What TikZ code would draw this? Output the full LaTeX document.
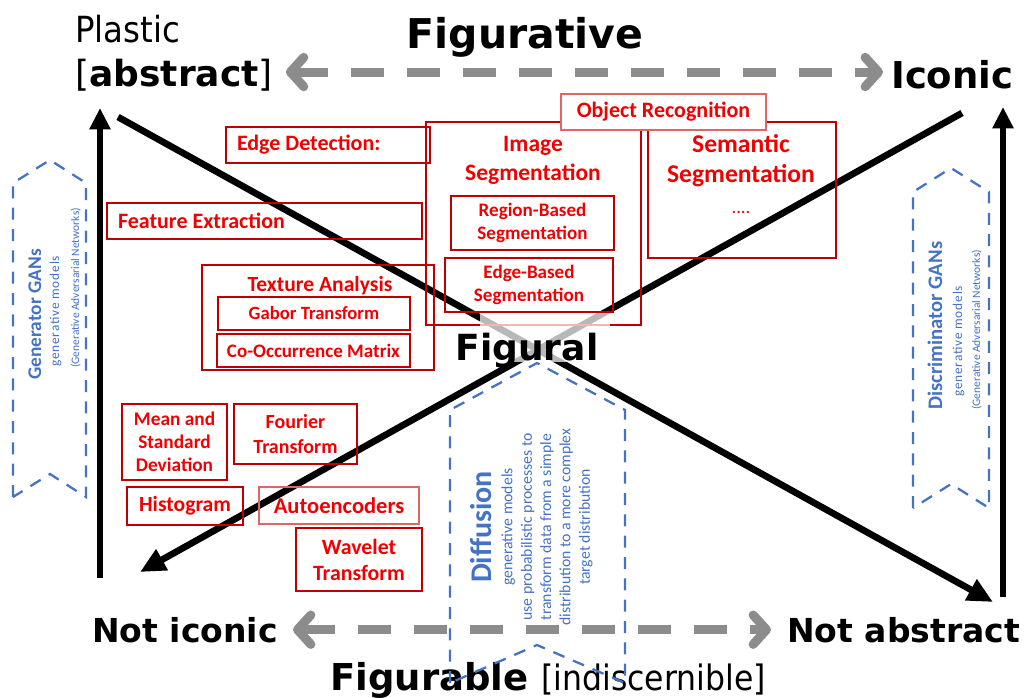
\documentclass[tikz,border=0pt]{standalone}
\usepackage{fontspec}
\setmainfont{DejaVu Sans}
\newfontfamily\condfont{DejaVu Sans Condensed}
\newfontfamily\calfont{Carlito}
\newfontfamily\calspaced[LetterSpace=6]{Carlito}
\usetikzlibrary{arrows.meta}
\definecolor{boxred}{HTML}{C00000}
\definecolor{lightred}{HTML}{E06666}
\definecolor{txtred}{HTML}{F00000}
\definecolor{gansblue}{HTML}{4472C4}
\definecolor{arrgrey}{HTML}{8C8C8C}
\newcommand{\fsz}[2]{\fontsize{#1pt}{#2pt}\selectfont}
\tikzset{
    axislbl/.style={font=\bfseries\fsz{#1}{#1}, inner sep=0pt},
    redbox/.style={draw=boxred, line width=1.2pt, text=txtred, align=center, inner sep=0pt},
    redtxt/.style={text=txtred, align=center, inner sep=0pt},
    redfs/.style 2 args={font=\calfont\bfseries\fsz{#1}{#2}},
    boxwh/.style 2 args={minimum width=#1*0.75pt, minimum height=#2*0.75pt},
    chevron/.style={draw=gansblue, line width=1.7pt, dash pattern=on 9pt off 7pt},
    bluetxt/.style={text=gansblue, rotate=90, inner sep=0pt},
    greyarr/.style={draw=arrgrey, line width=6.8pt, dash pattern=on 25pt off 17pt,
        {Straight Barb[round, length=10pt, width=22pt]}-{Straight Barb[round, length=10pt, width=22pt]}},
    vertarr/.style={line width=4pt, -{Triangle[length=16pt, width=15pt]}},
    diagarr/.style={line width=5pt, -{Triangle[length=19pt, width=17pt]}}
}

\begin{document}
\begin{tikzpicture}[x=0.75pt, y=-0.75pt]

\useasboundingbox (0,0) rectangle (1030,697);

\node[font=\condfont\fsz{27}{32}, inner sep=0pt, anchor=base west] (plastic) at (75,42) {Plastic};
\node[axislbl=27, anchor=base west] (abstract) at (75,86) {{\mdseries[}abstract{\mdseries]}};
\node[axislbl=30.75, anchor=base] (figurative) at (525,48) {Figurative};
\node[axislbl=27.75, anchor=base west] (iconic) at (891,88) {Iconic};
\node[axislbl=24.75, anchor=base west] (noticonic) at (92,642) {Not iconic};
\node[axislbl=24.75, anchor=base west] (notabstract) at (787,642) {Not abstract};
\node[axislbl=27.75, anchor=base west] (figurable) at (330,690) {Figurable {\condfont\mdseries\fsz{26.25}{30}[indiscernible]}};

\draw[greyarr, shorten <=9.75pt, shorten >=6pt] ([yshift=2pt]abstract.east) -- ([yshift=2pt]abstract.east -| iconic.west);
\draw[greyarr, shorten <=11.25pt, shorten >=12pt] (noticonic.east) -- (noticonic.east -| notabstract.west);

\draw[chevron] (13,497) -- (13,183) -- (50,160) -- (86,183) -- (86,497) -- (50,474) -- cycle;
\draw[chevron] (913,508) -- (913,192) -- (951,168) -- (989,192) -- (989,508) -- (951,484) -- cycle;
\draw[chevron] (450,683) -- (450,410) -- (537,363) -- (625,410) -- (625,683) -- (537,645) -- cycle;

\node[bluetxt, font=\calfont\bfseries\fsz{14.5}{17}, anchor=base west] (gentitle) at (41,380) {Generator GANs};
\node[bluetxt, font=\calspaced\fsz{10}{12}, anchor=base west] (gensub) at (59,367) {generative models};
\node[bluetxt, font=\calfont\fsz{8.6}{11}, anchor=base west] (gennote) at (79,368) {(Generative Adversarial Networks)};
\node[bluetxt, font=\calfont\bfseries\fsz{15.5}{18}, anchor=base west] (disctitle) at (942,410) {Discriminator GANs};
\node[bluetxt, font=\calspaced\fsz{10}{12}, anchor=base west] (discsub) at (962,397) {generative models};
\node[bluetxt, font=\calfont\fsz{8.6}{11}, anchor=base west] (discnote) at (980,410) {(Generative Adversarial Networks)};
\node[bluetxt, font=\calfont\bfseries\fsz{22.5}{27}, anchor=base] (difftitle) at (491,527) {Diffusion};
\node[bluetxt, font=\calfont\fsz{11.8}{14.5}, align=center] (diffnote) at (547,527)
    {generative models\\use probabilistic processes to\\transform data from a simple\\distribution to a more complex\\target distribution};

\coordinate (lbot) at (100,578);
\coordinate (ltop) at (100,108);
\coordinate (rbot) at (1003,597);
\coordinate (rtop) at (1003,107);
\coordinate (tlstart) at (118,117);
\coordinate (brend) at (993,602);
\coordinate (trstart) at (962,113);
\coordinate (blend) at (140,572);
\draw[vertarr] (lbot) -- (ltop);
\draw[vertarr] (rbot) -- (rtop);
\draw[diagarr] (tlstart) -- (brend);
\draw[diagarr] (trstart) -- (blend);

\node[redbox, boxwh={204}{36}, redfs={16.5}{20}, text width=136.5pt, align=flush left] (edgedet) at (328,145) {Edge Detection:};
\node[redbox, boxwh={215}{203}] (imgseg) at (533.5,223.5) {};
\node[redtxt, redfs={17.6}{21.75}] (imgsegtxt) at (533,160) {Image\\Segmentation};
\node[redbox, boxwh={163}{54}, redfs={14.3}{17.3}] (regbased) at (532.5,223) {Region-Based\\Segmentation};
\node[redbox, boxwh={168}{54}, redfs={14.3}{17.3}] (edgebased) at (529,285) {Edge-Based\\Segmentation};
\node[redbox, boxwh={188}{136}] (semseg) at (742,190) {};
\node[redtxt, redfs={19.2}{23}] (semsegtxt) at (741,174) {Semantic\\Segmentation\\{\mdseries\fsz{14}{23}....}};
\node[redbox, boxwh={205}{36}, redfs={16.5}{20}, fill=white, draw=lightred, line width=0.8pt] (objrec) at (663.5,112) {Object Recognition};
\node[redbox, boxwh={315}{36}, redfs={16.5}{20}, text width=219.75pt, align=flush left] (featext) at (264.5,221) {Feature Extraction};
\node[redbox, boxwh={232}{105}] (texture) at (318,317.5) {};
\node[redtxt, redfs={16.2}{19}] (texturetxt) at (320,286) {Texture Analysis};
\node[redbox, boxwh={192}{33}, redfs={14}{17}] (gabor) at (314,313.5) {Gabor Transform};
\node[redbox, boxwh={193}{33}, redfs={14.3}{17}] (cooc) at (313.5,350.5) {Co-Occurrence Matrix};
\node[redbox, boxwh={105}{76}, redfs={14.5}{17.25}] (meanstd) at (174.5,442) {Mean and\\Standard\\Deviation};
\node[redbox, boxwh={123}{60}, redfs={15}{18.75}] (fourier) at (295.5,434) {Fourier\\Transform};
\node[redbox, boxwh={116}{38}, redfs={16.2}{19}] (histo) at (185,506) {Histogram};
\node[redbox, boxwh={160}{37}, redfs={16.9}{20}, draw=lightred, line width=0.8pt] (autoenc) at (339,505.5) {Autoencoders};
\node[redbox, boxwh={126}{63}, redfs={16.4}{19.5}] (wavelet) at (359,559.5) {Wavelet\\Transform};

\fill[white, fill opacity=0.72] (480,313) rectangle (610,362);
\node[axislbl=27, anchor=base] (figural) at (527,360) {Figural};
\end{tikzpicture}
\end{document}
